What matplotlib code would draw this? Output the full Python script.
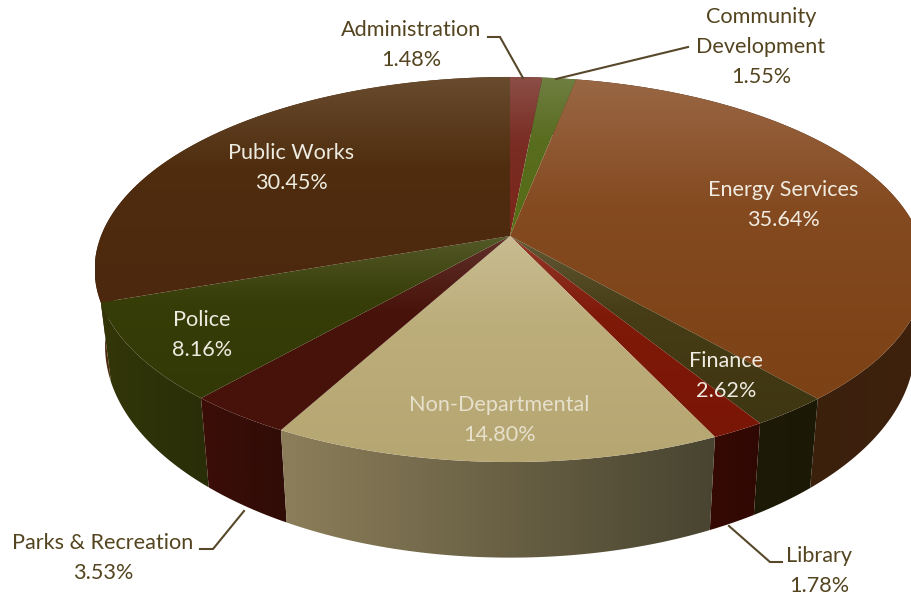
import numpy as np
import matplotlib
matplotlib.use('Agg')
import matplotlib.pyplot as plt
from matplotlib.patches import Polygon

plt.rcParams['font.family'] = ['Lato', 'DejaVu Sans']

# budget shares, clockwise from twelve o'clock
departments = ['Administration', 'Community\nDevelopment', 'Energy Services', 'Finance', 'Library',
               'Non-Departmental', 'Parks & Recreation', 'Police', 'Public Works']
shares = [1.48, 1.55, 35.64, 2.62, 1.78, 14.80, 3.53, 8.16, 30.45]

# top face: upper colour, lower colour
top_start = ['#7A342C', '#5A6C26', '#8A5028', '#4C4118', '#821C0A', '#C0B280', '#481209', '#3A4008', '#52300F']
top_end = ['#7A2418', '#566C14', '#7C4114', '#3E3612', '#7A1606', '#B6A672', '#46120A', '#333906', '#4C280E']
# rim: left colour, right colour
side_left = ['#501810', '#3A4A10', '#351C0A', '#1E1A08', '#360A03', '#8C7E5A', '#3C0E07', '#323608', '#4E2A10']
side_right = ['#501810', '#3A4A10', '#3E220E', '#1C1806', '#300803', '#484430', '#300C07', '#2A2E08', '#4E2A10']

label_xy = [(411, 45), (761, 47), (783, 205), (726, 376), (819, 571),
            (499, 420), (103, 558), (202, 335), (291, 168)]
label_col = ['#54441F', '#54441F', '#F0EBE0', '#F0EBE0', '#54441F',
             '#E6E0CC', '#54441F', '#EDEBE0', '#EDEBE0']

# (x, y) runs of the leader lines
leaders = {
    'Administration': [(488, 37), (500, 37), (523, 78)],
    'Community': [(688, 47), (556, 79)],
    'Parks': [(200, 549), (213, 549), (244, 511)],
    'Library': [(782, 562), (770, 562), (729, 526)],
}

# pie geometry in pixels, perspective tilt k
cx, cy = 510, 236
A, B, k = 186.7, 409, 0.174
rim_sx, rim_sy, rim_drop = 0.975, 1.1, 73


def rim(theta, sx=1.0, sy=1.0, drop=0.0):
    X, Y = np.sin(theta), np.cos(theta)
    s = 1 / (1 + k * Y)
    return cx + sx * B * X * s, cy + drop - sy * A * Y * s


def hex2rgb(c):
    return np.array(matplotlib.colors.to_rgb(c))


def fill_gradient(ax, xs, ys, c0, c1, vertical, haze=0.0):
    # gradient image limited to the polygon (xs, ys)
    x0, x1, y0, y1 = xs.min(), xs.max(), ys.min(), ys.max()
    t = np.linspace(0, 1, 256)[:, None]
    rgb = hex2rgb(c0) * (1 - t) + hex2rgb(c1) * t
    if haze > 0:
        h = haze * np.clip(1 - t / 0.4, 0, 1)
        rgb = rgb * (1 - h) + h
    img = rgb[:, None, :] if vertical else rgb[None, :, :]
    im = ax.imshow(img, extent=(x0, x1, y1, y0), aspect='auto', interpolation='bilinear', zorder=2)
    patch = Polygon(np.column_stack([xs, ys]), closed=True, transform=ax.transData)
    im.set_clip_path(patch)


fig = plt.figure(figsize=(9.11, 5.97), dpi=100, facecolor='white')
ax = fig.add_axes([0, 0, 1, 1])

edges = np.concatenate([[0], np.cumsum(shares)]) / np.sum(shares) * 2 * np.pi
slices = list(zip(edges[:-1], edges[1:]))

# rims first, back slices before front ones
order = [8, 2, 0, 1, 3, 7, 6, 4, 5]
for i in order:
    a0, a1 = slices[i]
    th = np.linspace(a0, a1, 120)
    xt, yt = rim(th)
    xb, yb = rim(th, rim_sx, rim_sy, rim_drop)
    xs = np.concatenate([xt, xb[::-1]])
    ys = np.concatenate([yt, yb[::-1]])
    fill_gradient(ax, xs, ys, side_left[i], side_right[i], vertical=False)

# top faces
for i, (a0, a1) in enumerate(slices):
    th = np.linspace(a0, a1, 200)
    xt, yt = rim(th)
    xs = np.concatenate([[cx], xt])
    ys = np.concatenate([[cy], yt])
    fill_gradient(ax, xs, ys, top_start[i], top_end[i], vertical=True, haze=0.13)

for run in leaders.values():
    ax.plot(*zip(*run), color='#57482A', lw=1.5, solid_joinstyle='miter', zorder=4)

for name, share, (x, y), col in zip(departments, shares, label_xy, label_col):
    ax.text(x, y, f'{name}\n{share:.2f}%', color=col, fontsize=15.6, ha='center', va='center',
            linespacing=1.6, zorder=5)

ax.set_xlim(0, 911)
ax.set_ylim(597, 0)
ax.axis('off')

fig.savefig('out.png', dpi=100, facecolor='white')
plt.close()
